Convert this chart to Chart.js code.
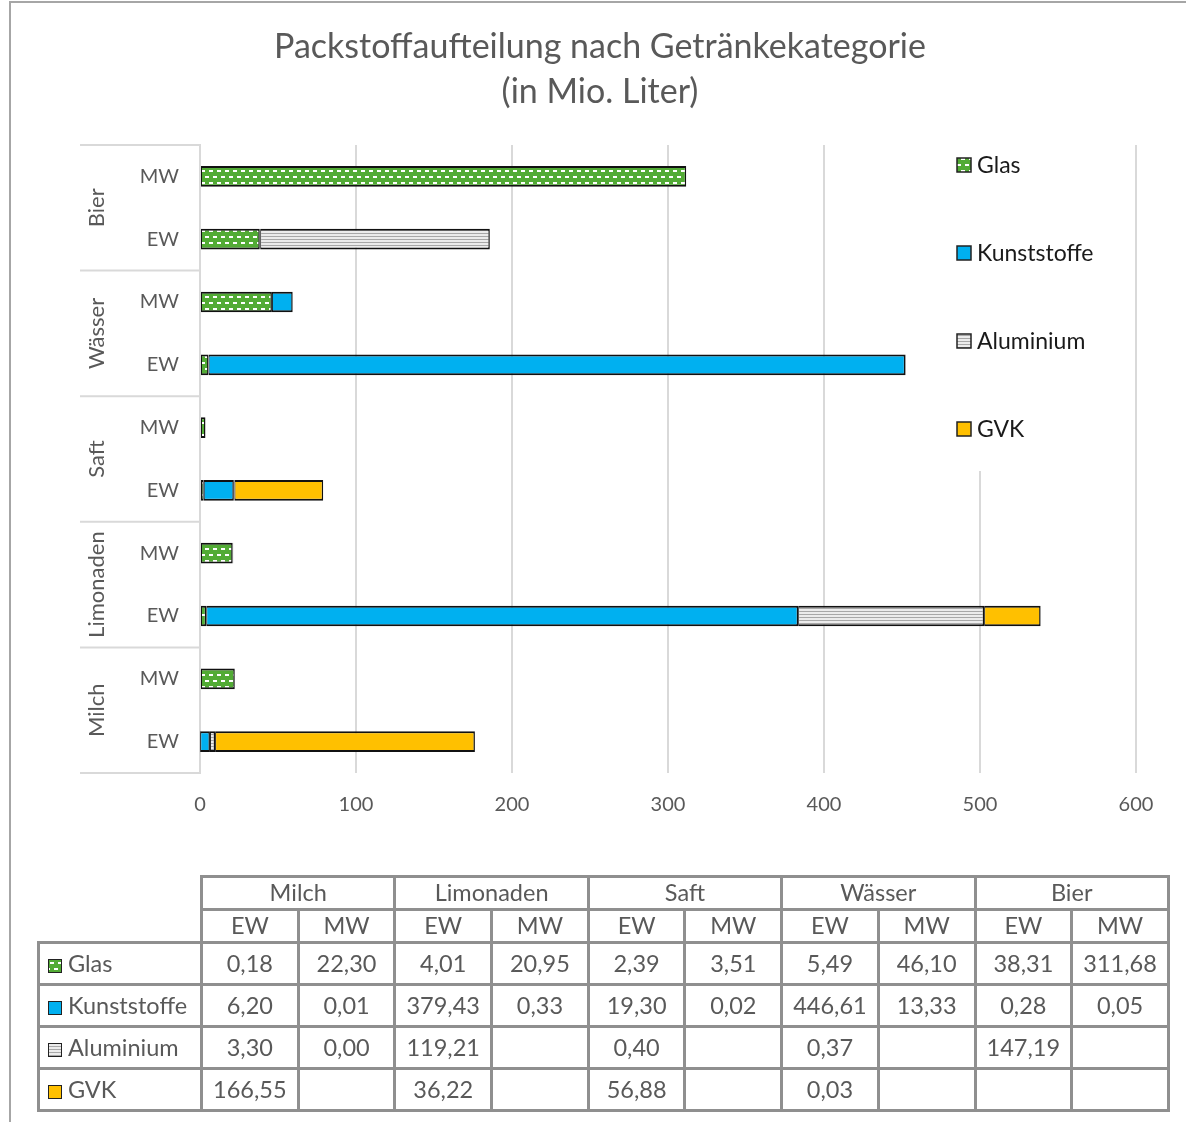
<!DOCTYPE html>
<html lang="de">
<head>
<meta charset="UTF-8">
<title>Packstoffaufteilung nach Getränkekategorie</title>
<script src="https://cdn.jsdelivr.net/npm/chart.js"></script>
<style>
    body {
        margin: 0;
        background: #fff;
        font-family: Lato, 'Open Sans', sans-serif;
        overflow: hidden;
    }
    .wrap {
        position: relative;
        width: 1186px;
        height: 1122px;
    }
    .frame {
        position: absolute;
        left: 9px;
        top: 1px;
        width: 1300px;
        height: 1300px;
        border: 2px solid #a6a6a6;
        box-sizing: border-box;
    }
    #chart {
        position: absolute;
        left: 0;
        top: 0;
    }
    #dataTable {
        position: absolute;
        left: 37px;
        top: 875px;
        width: 1130px;
        border-collapse: collapse;
        table-layout: fixed;
        color: #595959;
        font-size: 23.5px;
    }
    #dataTable td {
        border: 3px solid #8f8f8f;
        text-align: center;
        padding: 0 0 2px 0;
        white-space: nowrap;
        overflow: hidden;
    }
    #dataTable td.corner {
        border: none;
    }
    #dataTable td.rowhead {
        text-align: left;
        padding-left: 8px;
    }
    .key {
        display: inline-block;
        width: 14px;
        height: 14px;
        border: 1px solid #222;
        margin-right: 6px;
        vertical-align: -1px;
        box-sizing: border-box;
    }
</style>
</head>
<body>
<div class="wrap">
    <div class="frame"></div>
    <canvas id="chart" width="1186" height="1122"></canvas>
    <table id="dataTable"></table>
</div>

<script>
    // bars from top to bottom
    const labels = ['MW', 'EW', 'MW', 'EW', 'MW', 'EW', 'MW', 'EW', 'MW', 'EW'];
    const groups = ['Bier', 'Wässer', 'Saft', 'Limonaden', 'Milch'];

    const glas = [311.68, 38.31, 46.10, 5.49, 3.51, 2.39, 20.95, 4.01, 22.30, 0.18];
    const kunststoffe = [0.05, 0.28, 13.33, 446.61, 0.02, 19.30, 0.33, 379.43, 0.01, 6.20];
    const aluminium = [null, 147.19, null, 0.37, null, 0.40, null, 119.21, 0.00, 3.30];
    const gvk = [null, null, null, 0.03, null, 56.88, null, 36.22, null, 166.55];

    const seriesNames = ['Glas', 'Kunststoffe', 'Aluminium', 'GVK'];
    const xMax = 600;
    const xStep = 100;

    const textColor = '#595959';
    const gridColor = '#d9d9d9';

    function makeGlasPattern() {
        const c = document.createElement('canvas');
        c.width = 8;
        c.height = 12;
        const g = c.getContext('2d');
        g.fillStyle = '#52ab35';
        g.fillRect(0, 0, 8, 12);
        g.fillStyle = '#ffffff';
        g.fillRect(1, 2, 4, 2);
        g.fillRect(5, 8, 3, 2);
        g.fillRect(0, 8, 1, 2);
        return c;
    }

    function makeAluPattern() {
        const c = document.createElement('canvas');
        c.width = 4;
        c.height = 3;
        const g = c.getContext('2d');
        g.fillStyle = '#ececec';
        g.fillRect(0, 0, 4, 3);
        g.fillStyle = '#a8a8a8';
        g.fillRect(0, 2, 4, 1);
        return c;
    }

    const glasTile = makeGlasPattern();
    const aluTile = makeAluPattern();
    const ctx = document.getElementById('chart').getContext('2d');
    const glasFill = ctx.createPattern(glasTile, 'repeat');
    const aluFill = ctx.createPattern(aluTile, 'repeat');

    const fills = [glasFill, '#00b0f0', aluFill, '#ffc000'];
    const keyCss = [
        'background-image:url(' + glasTile.toDataURL() + ')',
        'background:#00b0f0',
        'background-image:url(' + aluTile.toDataURL() + ')',
        'background:#ffc000'
    ];
    const values = [glas, kunststoffe, aluminium, gvk];

    const sideLegend = {
        id: 'sideLegend',
        afterDatasetsDraw(chart) {
            const c = chart.ctx;
            const area = chart.chartArea;
            const left = area.right - 179;
            c.save();
            c.fillStyle = '#fff';
            c.fillRect(left - 24, area.top, 184, 326);
            c.font = '23px Lato';
            c.textBaseline = 'middle';
            seriesNames.forEach((name, i) => {
                const y = area.top + 20 + i * 88;
                c.fillStyle = fills[i];
                c.fillRect(left, y - 7, 14, 14);
                c.strokeStyle = '#222';
                c.lineWidth = 1.5;
                c.strokeRect(left, y - 7, 14, 14);
                c.fillStyle = '#1a1a1a';
                c.fillText(name, left + 20, y + 1);
            });
            c.restore();
        }
    };

    const groupAxis = {
        id: 'groupAxis',
        afterDraw(chart) {
            const c = chart.ctx;
            const y = chart.scales.y;
            const area = chart.chartArea;
            c.save();
            c.strokeStyle = gridColor;
            c.lineWidth = 2;
            const bounds = [area.top];
            for (let g = 0; g < groups.length - 1; g++) {
                bounds.push((y.getPixelForValue(g * 2 + 1) + y.getPixelForValue(g * 2 + 2)) / 2);
            }
            bounds.push(area.bottom);
            bounds.forEach(b => {
                c.beginPath();
                c.moveTo(80, b);
                c.lineTo(area.left - 1, b);
                c.stroke();
            });
            c.fillStyle = textColor;
            c.font = '22px Lato';
            c.textAlign = 'center';
            c.textBaseline = 'middle';
            groups.forEach((name, g) => {
                const cy = (y.getPixelForValue(g * 2) + y.getPixelForValue(g * 2 + 1)) / 2;
                c.save();
                c.translate(97, cy);
                c.rotate(-Math.PI / 2);
                c.fillText(name, 0, 0);
                c.restore();
            });
            c.restore();
        }
    };

    Chart.defaults.font.family = 'Lato';

    new Chart(ctx, {
        type: 'bar',
        data: {
            labels: labels,
            datasets: seriesNames.map((name, i) => ({
                label: name,
                data: values[i],
                backgroundColor: fills[i],
                borderColor: '#111',
                borderWidth: { top: 2, bottom: 2, left: 1, right: 1.5 },
                borderSkipped: false,
                barPercentage: 0.33,
                categoryPercentage: 1
            }))
        },
        options: {
            indexAxis: 'y',
            responsive: false,
            animation: false,
            layout: {
                padding: { left: 64, right: 50, top: 0, bottom: 299 }
            },
            plugins: {
                legend: { display: false },
                tooltip: { enabled: false },
                title: {
                    display: true,
                    text: ['Packstoffaufteilung nach Getränkekategorie', '(in Mio. Liter)'],
                    color: textColor,
                    font: { family: 'Lato', size: 34, weight: 'normal', lineHeight: 45 / 34 },
                    padding: { top: 25, bottom: 30 }
                }
            },
            scales: {
                x: {
                    stacked: true,
                    min: 0,
                    max: xMax,
                    ticks: { stepSize: xStep, color: textColor, font: { size: 20 }, padding: 20 },
                    grid: { color: gridColor, lineWidth: 2, drawTicks: false },
                    border: { display: false },
                    afterFit(scale) { scale.height = 50; }
                },
                y: {
                    stacked: true,
                    ticks: { color: textColor, font: { size: 20 }, padding: 21 },
                    grid: { display: false, drawTicks: false },
                    border: { display: true, color: gridColor, width: 2 },
                    afterFit(scale) { scale.width = 136; }
                }
            }
        },
        plugins: [sideLegend, groupAxis]
    });

    // data table below the chart (columns: Milch EW ... Bier MW)
    function fmt(v) {
        return v === null ? '' : v.toFixed(2).replace('.', ',');
    }

    const order = labels.map((_, i) => labels.length - 1 - i);
    const table = document.getElementById('dataTable');
    let html = '<colgroup><col style="width:163px">';
    order.forEach(() => { html += '<col style="width:96.7px">'; });
    html += '</colgroup>';
    html += '<tr style="height:33px"><td class="corner" rowspan="2"></td>';
    groups.slice().reverse().forEach(g => { html += '<td colspan="2">' + g + '</td>'; });
    html += '</tr><tr style="height:33px">';
    order.forEach(i => { html += '<td>' + labels[i] + '</td>'; });
    html += '</tr>';
    seriesNames.forEach((name, s) => {
        html += '<tr style="height:42px"><td class="rowhead"><span class="key" style="' + keyCss[s] + '"></span>' + name + '</td>';
        order.forEach(i => { html += '<td>' + fmt(values[s][i]) + '</td>'; });
        html += '</tr>';
    });
    table.innerHTML = html;
</script>
</body>
</html>
